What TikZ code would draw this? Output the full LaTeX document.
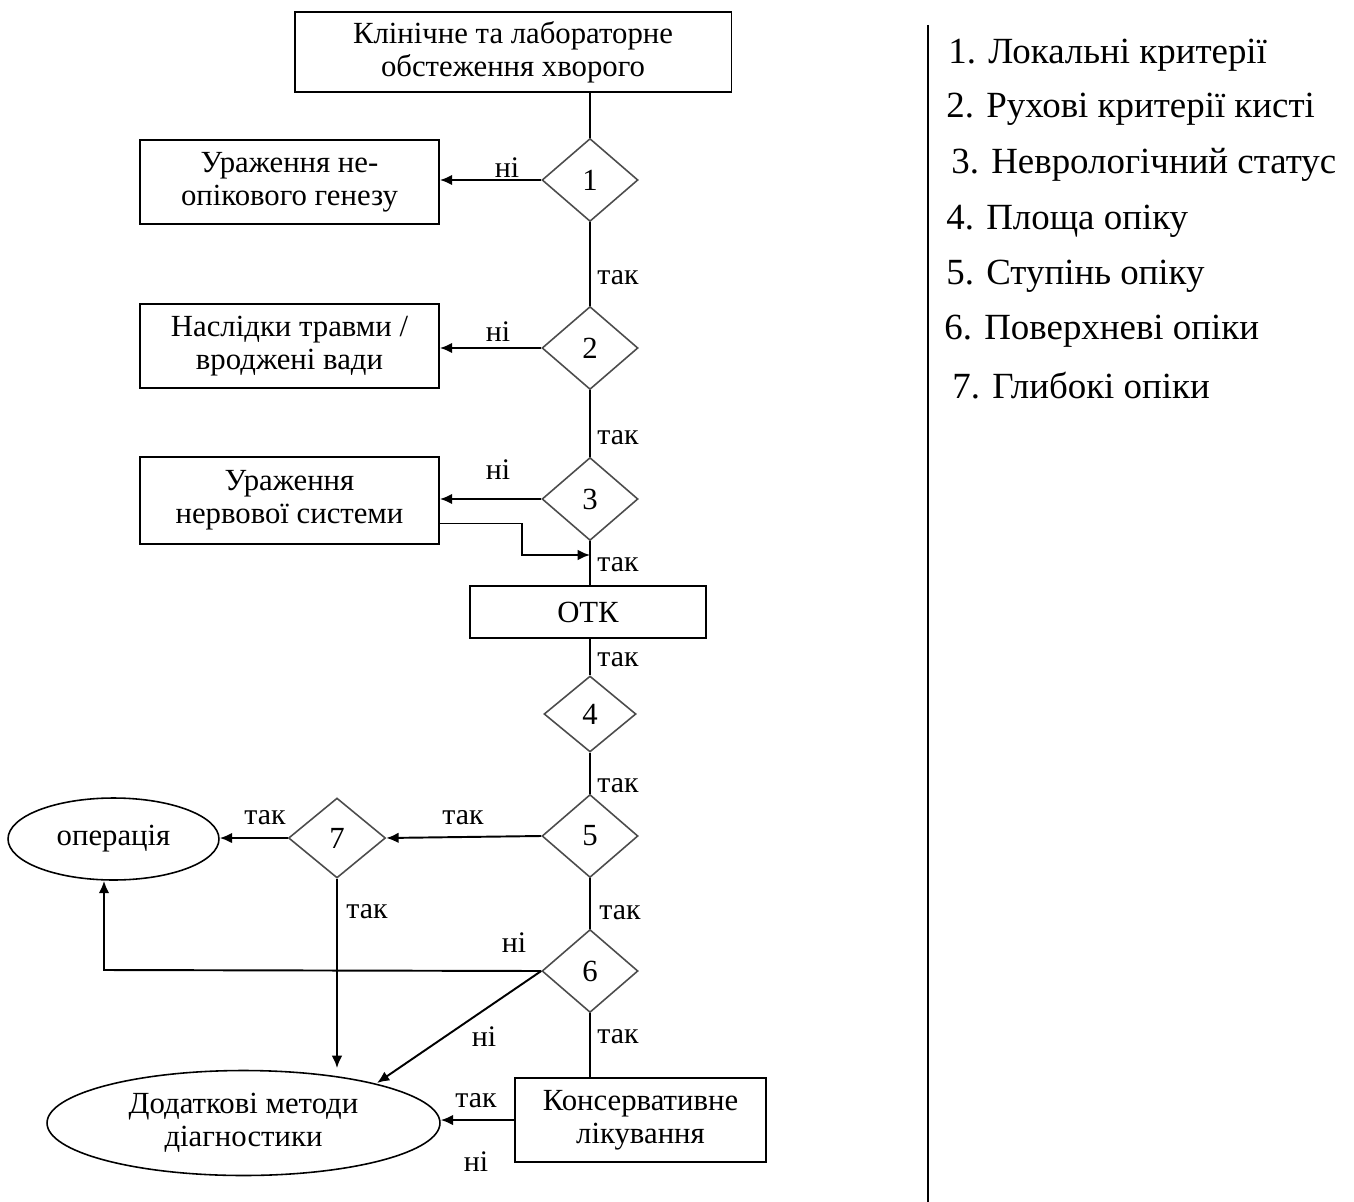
\documentclass[tikz,border=0pt]{standalone}
\usepackage{fontspec}
\setmainfont{Liberation Serif}
\usetikzlibrary{shapes.geometric,arrows.meta}
\begin{document}
\begin{tikzpicture}[x=0.02cm,y=-0.02cm,
  font=\fontsize{17.5}{18.8}\selectfont,
  box/.style={draw,line width=1.1pt,align=center,inner sep=0pt},
  dia/.style={diamond,draw=black!70,line width=0.9pt,inner sep=0pt,minimum width=1.92cm,minimum height=1.66cm},
  oval/.style={ellipse,draw,line width=0.9pt,align=center,inner sep=0pt},
  conn/.style={line width=1.1pt},
  arr/.style={conn,-{Latex[length=7pt,width=6pt]}},
  lbl/.style={inner sep=0pt,font=\fontsize{17}{18}\selectfont},
  leg/.style={anchor=west,inner sep=0pt,font=\fontsize{21}{22}\selectfont}]
\useasboundingbox (0,0) rectangle (1354,1202);
% nodes
\node[box,minimum width=8.74cm,minimum height=1.6cm] (top) at (513,52) {Клінічне та лабораторне\\обстеження хворого};
\node[dia] (d1) at (590,180) {1};
\node[dia] (d2) at (590,348) {2};
\node[dia] (d3) at (590,499) {3};
\node[dia,minimum width=1.84cm,minimum height=1.52cm] (d4) at (590,714) {4};
\node[dia] (d5) at (590,836) {5};
\node[dia] (d6) at (590,971) {6};
\node[dia,minimum width=1.94cm,minimum height=1.6cm] (d7) at (337,838) {7};
\node[box,minimum width=5.98cm,minimum height=1.68cm] (a) at (289.5,182) {Ураження не-\\опікового генезу};
\node[box,minimum width=5.98cm,minimum height=1.68cm] (b) at (289.5,346) {Наслідки травми /\\вроджені вади};
\node[box,minimum width=5.98cm,minimum height=1.74cm] (c) at (289.5,500.5) {Ураження\\нервової системи};
\node[box,minimum width=4.72cm,minimum height=1.04cm] (otk) at (588,612) {ОТК};
\node[box,minimum width=5.02cm,minimum height=1.68cm] (kons) at (640.5,1120) {Консервативне\\лікування};
\node[oval,minimum width=4.22cm,minimum height=1.64cm] (op) at (113.5,839) {операція};
\node[oval,minimum width=7.86cm,minimum height=2.1cm] (dod) at (243.5,1123) {Додаткові методи\\діагностики};
% helper coordinates
\coordinate (j3) at (590,555);
\coordinate (c6) at (104,970);
\coordinate (t7) at (337,1068);
\coordinate (t6) at (377,1083);
% connectors
\draw[conn] (d1.north |- top.south) -- (d1.north);
\draw[conn] (d1.south) -- (d2.north);
\draw[conn] (d2.south) -- (d3.north);
\draw[conn] (d3.south) -- (d3.south |- otk.north);
\draw[conn] (d4.north |- otk.south) -- (d4.north);
\draw[conn] (d4.south) -- (d5.north);
\draw[conn] (d5.south) -- (d6.north);
\draw[conn] (d6.south) -- (kons.north -| d6.south);
\draw[arr] (d1.west) -- (d1.west -| a.east);
\draw[arr] (d2.west) -- (d2.west -| b.east);
\draw[arr] (d3.west) -- (d3.west -| c.east);
\draw[arr] ([yshift=-0.46cm]c.east) -- ++(82,0) |- (j3);
\draw[arr] (d5.west) -- (d7.east);
\draw[arr] (d7.west) -- (d7.west -| op.east);
\draw[arr] (d7.south) -- (t7);
\draw[arr] (d6.west) -- (c6) -- (c6 |- op.south);
\draw[arr] (d6.west) -- (t6);
\draw[arr] (kons.west) -- (kons.west -| dod.east);
% labels
\node[lbl] (l1) at (507,168) {ні};
\node[lbl] (l2) at (618,278) {так};
\node[lbl] (l3) at (498,332) {ні};
\node[lbl] (l4) at (618,438) {так};
\node[lbl] (l5) at (498,470) {ні};
\node[lbl] (l6) at (618,565) {так};
\node[lbl] (l7) at (618,660) {так};
\node[lbl] (l8) at (618,786) {так};
\node[lbl] (l9) at (463,818) {так};
\node[lbl] (l10) at (265,818) {так};
\node[lbl] (l11) at (620,913) {так};
\node[lbl] (l12) at (367,912) {так};
\node[lbl] (l13) at (514,943) {ні};
\node[lbl] (l14) at (484,1037) {ні};
\node[lbl] (l15) at (618,1037) {так};
\node[lbl] (l16) at (476,1101) {так};
\node[lbl] (l17) at (476,1162) {ні};
% legend
\draw[line width=1.3pt] (928,25) -- (928,1202);
\node[leg] (g1) at (948,55) {1. Локальні критерії};
\node[leg] (g2) at (946,109) {2. Рухові критерії кисті};
\node[leg] (g3) at (951,165) {3. Неврологічний статус};
\node[leg] (g4) at (946,221) {4. Площа опіку};
\node[leg] (g5) at (946,276) {5. Ступінь опіку};
\node[leg] (g6) at (944,331) {6. Поверхневі опіки};
\node[leg] (g7) at (952,386) {7. Глибокі опіки};
\end{tikzpicture}
\end{document}
